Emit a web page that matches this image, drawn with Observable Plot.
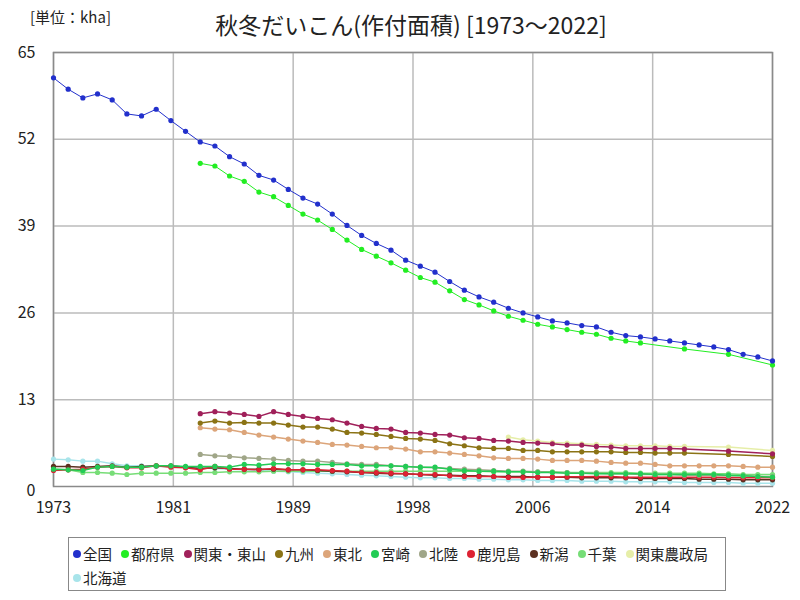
<!DOCTYPE html>
<html><head><meta charset="utf-8">
<script src="https://cdn.jsdelivr.net/npm/d3@7"></script>
<script src="https://cdn.jsdelivr.net/npm/@observablehq/plot@0.6"></script>
<style>
body{margin:0;background:#fff;font-family:'Noto Sans CJK JP',sans-serif;}
#wrap{position:relative;width:800px;height:600px;overflow:hidden;}
#title{position:absolute;top:7px;left:0;width:822px;text-align:center;font-size:23px;color:#222;}
#unit{position:absolute;top:6px;left:30px;font-size:15px;color:#222;}
#chart{position:absolute;top:0;left:0;}
#legend{position:absolute;left:68px;top:537px;width:658px;height:54px;border:1.5px solid #888;box-sizing:border-box;padding:3px 4px;font-size:14.5px;line-height:22px;color:#222;}
.item{display:inline-flex;align-items:center;margin-right:9px;white-space:nowrap;}
.dot{display:inline-block;width:8px;height:8px;border-radius:50%;margin-right:2px;}
</style></head>
<body><div id="wrap"><div id="chart"></div><div id="unit">[単位：kha]</div><div id="title">秋冬だいこん(作付面積) [1973～2022]</div><div id="legend"></div></div>
<script>
const years = d3.range(1973, 2023);
const seriesNames = ["全国","都府県","関東・東山","九州","東北","宮崎","北陸","鹿児島","新潟","千葉","関東農政局","北海道"];
const seriesColors = ["#2230cc","#22ee22","#a0205a","#8b7315","#dca57a","#22cc55","#a0a688","#dd2233","#5c3020","#77dd77","#e6eea8","#a8e4ea"];
const N = null;
const zenkoku = [61.2,59.5,58.2,58.8,57.9,55.8,55.5,56.5,54.8,53.2,
 51.6,51.0,49.4,48.3,46.6,45.9,44.5,43.2,42.3,40.8,
 39.1,37.6,36.4,35.4,33.9,33.0,32.1,30.7,29.4,28.4,
 27.6,26.7,26.0,25.4,24.8,24.5,24.1,23.9,23.1,22.6,
 22.4,22.1,21.8,21.5,21.2,20.9,20.5,19.8,19.4,18.8];
const tofuken = [N,N,N,N,N,N,N,N,N,N,
 48.4,48.0,46.5,45.7,44.1,43.4,42.1,40.8,39.9,38.5,
 36.9,35.5,34.5,33.5,32.4,31.3,30.6,29.3,28.0,27.2,
 26.3,25.5,24.9,24.3,23.9,23.5,23.1,22.8,22.2,21.8,
 21.5,N,N,20.6,N,N,19.8,N,N,18.2];
const kantoTosan = [N,N,N,N,N,N,N,N,N,N,
 10.9,11.2,11.0,10.8,10.5,11.2,10.8,10.5,10.2,10.0,
 9.5,9.0,8.7,8.6,8.1,8.0,7.8,7.7,7.3,7.2,
 6.9,6.8,6.6,6.5,6.4,6.2,6.2,6.0,5.9,5.7,
 5.7,5.7,5.7,5.6,N,N,5.3,N,N,4.9];
const kyushu = [N,N,N,N,N,N,N,N,N,N,
 9.5,9.8,9.5,9.6,9.5,9.5,9.2,8.9,8.9,8.6,
 8.1,8.0,7.8,7.5,7.2,7.1,6.9,6.4,6.1,5.8,
 5.7,5.7,5.4,5.4,5.2,5.2,5.2,5.2,5.2,5.1,
 5.1,5.0,5.0,5.0,N,N,4.8,N,N,4.5];
const tohoku = [N,N,N,N,N,N,N,N,N,N,
 8.8,8.6,8.5,8.1,7.7,7.4,7.1,6.8,6.6,6.3,
 6.2,6.0,5.8,5.8,5.6,5.2,5.2,5.0,4.8,4.6,
 4.3,4.2,4.2,4.1,3.9,3.9,3.9,3.8,3.6,3.5,
 3.5,3.3,3.1,3.1,3.1,3.1,3.1,3.0,2.9,2.9];
const miyazaki = [2.6,2.5,2.4,2.9,3.0,2.9,2.9,3.1,3.1,3.0,
 3.0,3.0,2.9,3.3,3.2,3.4,3.4,3.4,3.3,3.3,
 3.3,3.1,3.1,3.1,3.0,2.9,2.9,2.6,2.4,2.3,
 2.3,2.2,2.2,2.1,2.1,2.0,2.0,1.9,1.9,1.9,
 1.9,1.8,1.8,1.8,1.8,1.8,1.7,1.6,1.5,1.4];
const hokuriku = [N,N,N,N,N,N,N,N,N,N,
 4.8,4.6,4.5,4.3,4.2,4.1,3.9,3.8,3.8,3.6,
 3.4,3.3,3.3,3.1,3.0,2.9,2.8,2.7,2.6,2.5,
 2.4,2.3,2.3,2.2,2.1,2.1,2.0,2.0,1.9,1.9,
 1.8,1.8,1.8,1.7,1.7,1.7,1.6,1.6,1.5,1.5];
const kagoshima = [2.4,2.5,2.6,2.9,3.0,2.8,2.8,3.1,2.9,2.8,
 2.5,3.0,2.6,2.6,2.5,2.7,2.5,2.5,2.5,2.4,
 2.3,2.1,2.1,2.0,1.9,1.8,1.8,1.6,1.5,1.5,
 1.5,1.35,1.35,1.4,1.4,1.45,1.45,1.5,1.5,1.4,
 1.4,1.4,1.4,1.4,1.4,1.4,1.35,1.3,1.3,1.3];
const niigata = [3.0,3.0,2.9,3.0,3.1,2.9,3.0,3.1,3.1,2.9,
 2.7,2.8,2.7,2.6,2.6,2.6,2.5,2.5,2.4,2.3,
 2.2,2.1,2.0,1.9,1.9,1.8,1.7,1.7,1.6,1.6,
 1.5,1.5,1.5,1.4,1.4,1.4,1.3,1.3,1.3,1.3,
 1.2,1.2,1.2,1.2,1.1,1.1,1.1,1.0,1.0,1.0];
const chiba = [2.6,2.5,2.1,2.1,2.0,1.8,2.0,2.0,2.0,2.0,
 2.1,2.1,2.2,2.2,2.2,2.3,2.3,2.3,2.3,2.3,
 2.3,2.3,2.3,2.3,2.3,2.3,2.3,2.3,2.3,2.3,
 2.2,2.2,2.2,2.2,2.2,2.1,2.1,2.1,2.1,2.1,
 2.0,2.0,2.0,2.0,2.0,1.9,1.9,1.8,1.8,1.8];
const kantoNoseikyoku = [N,N,N,N,N,N,N,N,N,N,
 N,N,N,N,N,N,N,N,N,N,
 N,N,N,N,N,N,N,N,N,N,
 N,7.4,7.0,6.8,6.6,6.5,6.4,6.3,6.2,6.1,
 6.1,6.1,6.0,6.0,N,N,5.9,N,N,5.4];
const hokkaido = [4.1,4.0,3.8,3.8,3.4,3.1,3.1,3.0,3.0,2.9,
 2.8,2.7,2.6,2.5,2.4,2.3,2.2,2.1,2.0,1.9,
 1.8,1.7,1.6,1.5,1.4,1.3,1.3,1.2,1.2,1.1,
 1.1,1.0,1.0,0.9,0.9,0.9,0.8,0.8,0.8,0.7,
 0.7,0.7,0.7,0.6,0.6,0.6,0.6,0.5,0.5,0.5];
const seriesValues = [zenkoku,tofuken,kantoTosan,kyushu,tohoku,miyazaki,hokuriku,kagoshima,niigata,chiba,kantoNoseikyoku,hokkaido];
const yTicks = [13,26,39,52,65];
const xTickLabels = ["1973","1981","1989","1998","2006","2014","2022"];

const step = (2022-1973)/6;
const xTickPos = xTickLabels.map((_,i)=>1973+i*step);

const rows = [];
for (let s = seriesNames.length-1; s >= 0; s--) {
  seriesValues[s].forEach((v,i)=>{ if (v!=null) rows.push({name:seriesNames[s], year:years[i], value:v, order:s}); });
}
const color = {domain: seriesNames, range: seriesColors};

const chart = Plot.plot({
  width: 800, height: 530,
  marginTop: 52, marginBottom: 44, marginLeft: 53, marginRight: 28,
  x: {domain:[1973,2022]},
  y: {domain:[0,65]},
  color,
  style: {fontFamily:"'Noto Sans CJK JP',sans-serif", fontSize:"16px", color:"#222", background:"transparent"},
  marks: [
    Plot.gridX(xTickPos, {stroke:"#bbb", strokeOpacity:1, strokeWidth:1.5}),
    Plot.gridY(yTicks, {stroke:"#bbb", strokeOpacity:1, strokeWidth:1.5}),
    Plot.frame({stroke:"#8a8a8a", strokeWidth:1.5}),
    Plot.axisX(xTickPos, {tickSize:0, tickPadding:15, fontSize:16, label:null, tickFormat: d => xTickLabels[Math.round((d-1973)/step)]}),
    Plot.axisY(yTicks, {tickSize:0, tickPadding:18, fontSize:16, label:null}),
    Plot.text(["0"], {x:()=>1973, y:()=>0, text:d=>d, dx:-18, dy:4, textAnchor:"end", fontSize:16, fill:"#222"}),
    Plot.line(rows, {x:"year", y:"value", z:"name", stroke:"name", strokeWidth:d=>d.order<2?1:1.5, curve:"linear"}),
    Plot.dot(rows, {x:"year", y:"value", fill:"name", r:2.6})
  ]
});
document.getElementById("chart").appendChild(chart);

const lg = document.getElementById("legend");
seriesNames.forEach((n,i)=>{
  const it = document.createElement("span"); it.className="item";
  const d = document.createElement("span"); d.className="dot"; d.style.background=seriesColors[i];
  it.appendChild(d); it.appendChild(document.createTextNode(n)); lg.appendChild(it);
});
</script></body></html>
